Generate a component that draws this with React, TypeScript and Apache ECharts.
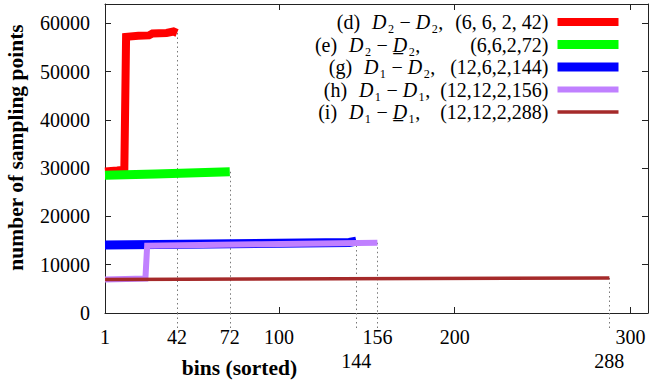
import React, { useEffect, useRef } from "react";
import * as echarts from "echarts";

// ---- data ----
const seriesNames = ["d", "e", "g", "h", "i"];
const seriesColors = ["#ff0000", "#00ff00", "#0000ff", "#c080ff", "#a52a2a"];
const seriesWidths = [8, 9, 9, 6, 3.5];

const dataD: [number, number][] = [
  [1, 29300], [8, 29500], [12, 29700], [13, 57200], [20, 57400], [26, 57500],
  [28, 57900], [36, 58000], [40, 58300], [42, 58000],
];
const dataE: [number, number][] = [[1, 28550], [30, 28800], [72, 29250]];
const dataG: [number, number][] = [[1, 14100], [60, 14300], [140, 14600], [144, 14900]];
const dataH: [number, number][] = [[1, 6950], [24, 7150], [25, 13950], [90, 14250], [156, 14550]];
const dataI: [number, number][] = [[1, 6950], [288, 7250]];

const xLabelValues = [1, 42, 72, 100, 156, 200, 300];
const xLowLabels = [144, 288];
const xMajorTicks = [100, 200, 300];
const endMarks = [42, 72, 144, 156, 288];

const legendTexts: Record<string, string> = {
  d: "(d){p| }{it|D}₂{op|−}{it|D}₂,  {sp| }(6, 6, 2, 42){g| }",
  e: "(e){p| }{it|D}₂{op|−}{it|D̲}₂,          (6,6,2,72){g| }",
  g: "(g){p| }{it|D}₁{op|−}{it|D}₂,   (12,6,2,144){g| }",
  h: "(h){p| }{it|D}₁{op|−}{it|D}₁,  (12,12,2,156){g| }",
  i: "(i){p| }{it|D}₁{op|−}{it|D̲}₁,    (12,12,2,288){g| }",
};

const FONT = "Liberation Serif";

export default function App() {
  const ref = useRef<HTMLDivElement>(null);
  useEffect(() => {
    if (!ref.current) return;
    const chart = echarts.init(ref.current, undefined, { renderer: "svg" });
    const datas = [dataD, dataE, dataG, dataH, dataI];
    const series = datas.map((d, i) => {
      const last = d[d.length - 1];
      return {
        name: seriesNames[i],
        type: "line",
        data: d,
        xAxisIndex: 0,
        yAxisIndex: 0,
        symbol: "none",
        z: 2 + i,
        lineStyle: { color: seriesColors[i], width: seriesWidths[i], cap: "butt", join: "miter" },
        itemStyle: { color: seriesColors[i] },
        markLine: {
          silent: true,
          symbol: ["none", "none"],
          label: { show: false },
          lineStyle: { color: "#777", width: 1, type: [1.5, 3] },
          z: 1,
          data: [[{ coord: [last[0], last[1]] }, { coord: [last[0], 0] }]],
        },
      };
    });
    const tokenBase = { fontFamily: FONT, fontSize: 20, lineHeight: 20, color: "#000" };
    const option: any = {
      animation: false,
      grid: { left: 105, right: 6, top: 4, bottom: 69, outerBoundsMode: "none", containLabel: false },
      legend: {
        orient: "vertical",
        right: 31,
        top: 12,
        padding: 0,
        itemGap: 2.5,
        itemWidth: 61,
        itemHeight: 20,
        align: "right",
        selectedMode: false,
        data: seriesNames.map((n, i) => ({
          name: n,
          itemStyle: { opacity: 0 },
          lineStyle: { width: seriesWidths[i], color: seriesColors[i] },
        })),
        formatter: (n: string) => legendTexts[n],
        textStyle: {
          ...tokenBase,
          rich: {
            it: { ...tokenBase, fontStyle: "italic", padding: [0, 1, 0, 0] },
            op: { ...tokenBase, padding: [0, 5, 0, 5] },
            p: { ...tokenBase, width: 12 },
            sp: { ...tokenBase, width: 2 },
            g: { ...tokenBase, width: 4 },
          },
        },
      },
      xAxis: [
        {
          type: "value",
          position: "bottom",
          min: 1,
          max: 310,
          axisLine: { show: true, lineStyle: { color: "#222", width: 1 } },
          axisTick: { show: true, inside: true, length: 6, customValues: xMajorTicks, lineStyle: { color: "#222" } },
          splitLine: { show: false },
          axisLabel: {
            customValues: xLabelValues,
            fontFamily: FONT,
            fontSize: 20,
            color: "#000",
            margin: 14,
            hideOverlap: false,
          },
          name: "bins (sorted)",
          nameLocation: "middle",
          nameGap: 44,
          nameTextStyle: {
            fontFamily: FONT,
            fontWeight: "bold",
            fontSize: 21.5,
            color: "#000",
            padding: [0, 274, 0, 0],
          },
        },
        {
          type: "value",
          position: "bottom",
          min: 1,
          max: 310,
          axisLine: { show: false },
          axisTick: {
            show: true,
            inside: false,
            length: 16,
            customValues: endMarks,
            lineStyle: { color: "#777", width: 1, type: [1.5, 3] },
          },
          axisLabel: {
            customValues: xLowLabels,
            fontFamily: FONT,
            fontSize: 20,
            color: "#000",
            margin: 38,
            hideOverlap: false,
          },
          splitLine: { show: false },
        },
        {
          type: "value",
          position: "top",
          min: 1,
          max: 310,
          axisLine: { show: true, lineStyle: { color: "#222", width: 1 } },
          axisTick: { show: true, inside: true, length: 6, customValues: xMajorTicks, lineStyle: { color: "#222" } },
          axisLabel: { show: false },
          splitLine: { show: false },
        },
      ],
      yAxis: [
        {
          type: "value",
          position: "left",
          min: 0,
          max: 64000,
          interval: 10000,
          axisLine: { show: true, lineStyle: { color: "#222", width: 1 } },
          axisTick: { show: true, inside: true, length: 6, lineStyle: { color: "#222" } },
          splitLine: { show: false },
          axisLabel: {
            fontFamily: FONT,
            fontSize: 20,
            color: "#000",
            margin: 15,
            showMaxLabel: false,
            formatter: (v: number) => (v > 60000 ? "" : String(v)),
          },
          name: "number of sampling points",
          nameLocation: "middle",
          nameRotate: 90,
          nameGap: 78,
          nameTextStyle: {
            fontFamily: FONT,
            fontWeight: "bold",
            fontSize: 21.5,
            color: "#000",
            padding: [0, 0, 0, 22],
          },
        },
        {
          type: "value",
          position: "right",
          min: 0,
          max: 64000,
          interval: 10000,
          axisLine: { show: true, lineStyle: { color: "#222", width: 1 } },
          axisTick: { show: true, inside: true, length: 6, lineStyle: { color: "#222" } },
          splitLine: { show: false },
          axisLabel: { show: false },
        },
      ],
      series,
    };
    chart.setOption(option);
    return () => chart.dispose();
  }, []);
  return <div ref={ref} style={{ width: 654, height: 382, position: "absolute", left: 0, top: 0 }} />;
}
